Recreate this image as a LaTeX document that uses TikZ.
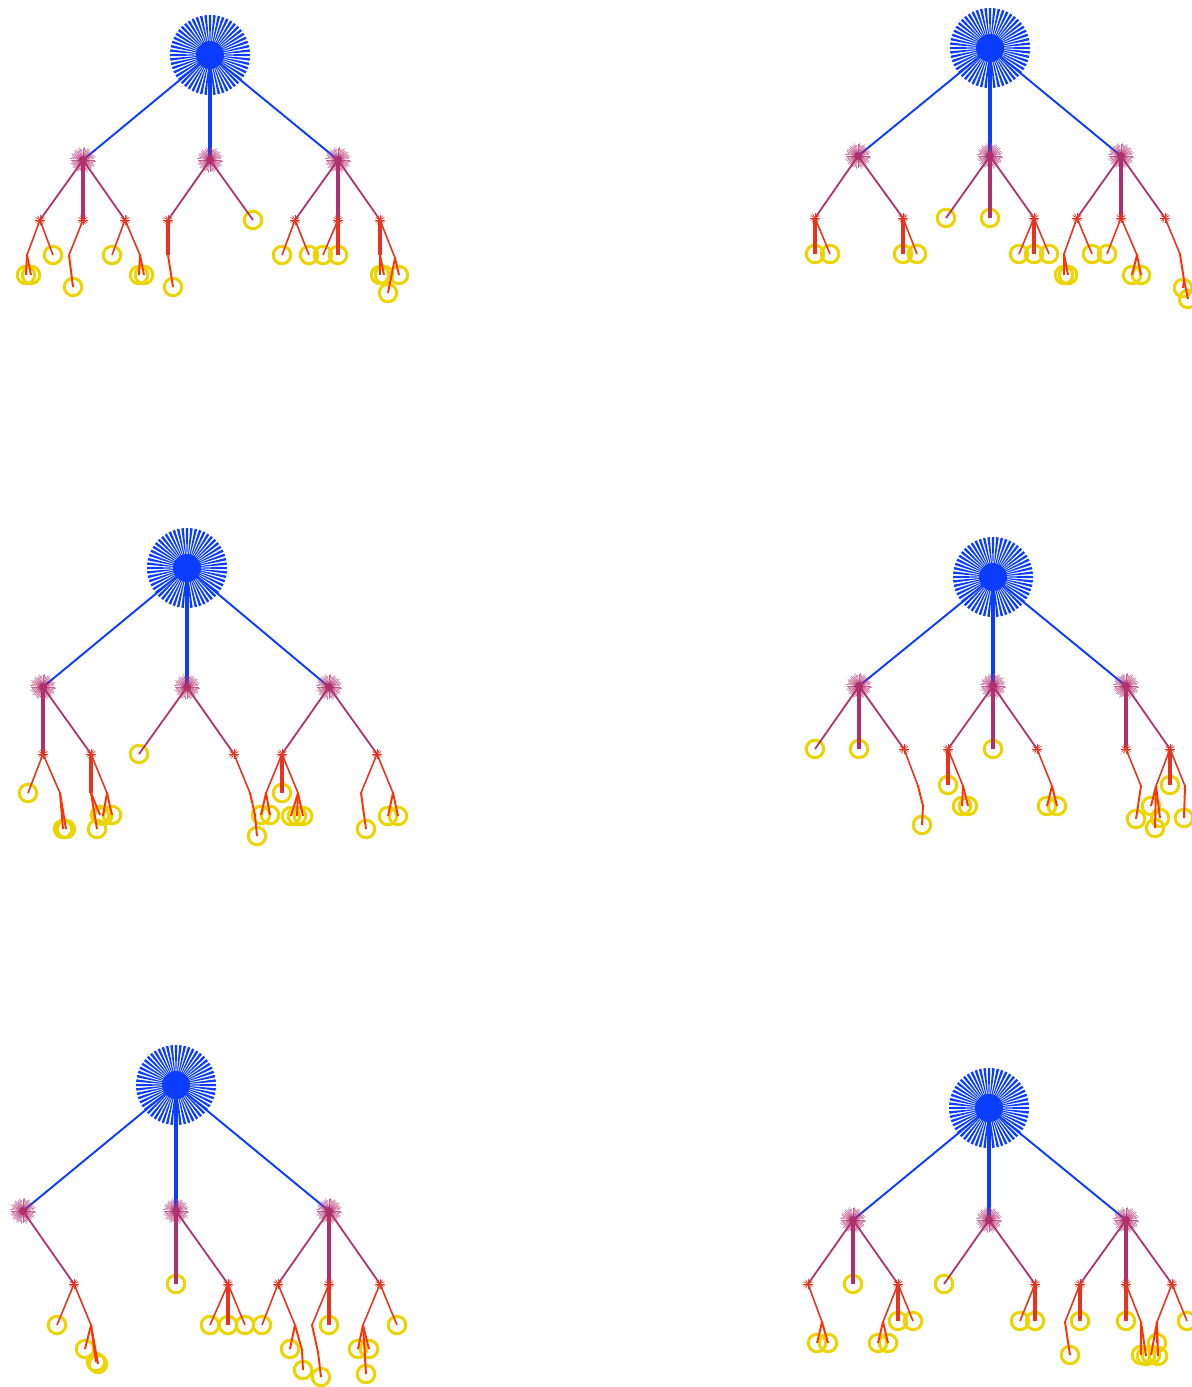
\documentclass[tikz,border=0pt]{standalone}
\usetikzlibrary{positioning}
\definecolor{RootClr}{rgb}{0.04,0.24,1}
\definecolor{MidClr}{rgb}{0.69,0.19,0.43}
\definecolor{LowClr}{rgb}{0.91,0.2,0.13}
\definecolor{TwigClr}{rgb}{1,0.2,0}
\definecolor{LeafClr}{rgb}{0.92,0.83,0}

\tikzset{
  leaf/.style={circle,draw=LeafClr,line width=1.7pt,minimum size=3.5mm,inner sep=0pt},
  rootlink/.style={RootClr,line width=1.1pt},
  midlink/.style={MidClr,line width=1pt},
  lowlink/.style={LowClr,line width=0.9pt},
  twiglink/.style={TwigClr,line width=1.1pt},
  upright/.style={line width=1.9pt}
}

\newcommand{\Links}[2]{\foreach \pa/\ch in {#2} {\draw[#1] (\pa) -- (\ch.center);}}
\newcommand{\RootBurst}[1]{%
  \begin{scope}[shift={(#1)}]
    \foreach \a in {0,6.4286,...,355} {\fill[RootClr] (0,0) -- ({\a-1.8}:40) -- ({\a+1.8}:40) -- cycle;}
    \fill[RootClr] (0,0) circle[radius=0.28cm];
  \end{scope}}
\newcommand{\MidBurst}[1]{%
  \begin{scope}[shift={(#1)}]
    \foreach \a [count=\i] in {0,7.5,...,355} {\draw[MidClr,line width=0.35pt,opacity=0.75] (0,0) -- (\a:{11+mod(\i,3)});}
    \fill[MidClr] (0,0) circle[radius=0.08cm];
  \end{scope}}
\newcommand{\SmallStar}[1]{%
  \foreach \a in {0,30,...,330} {\draw[LowClr,line width=0.4pt] (#1) -- ++(\a:5);}}
\newcommand{\Bend}[1]{\fill[TwigClr] (#1) circle[radius=0.025cm];}

\begin{document}
\begin{tikzpicture}[x=0.02cm,y=-0.02cm]
\useasboundingbox (0,0) rectangle (1192,1387);

% top left
\coordinate (A) at (210,55);
\foreach \n/\x in {A1/83,A2/210,A3/338} \coordinate (\n) at (\x,160);
\foreach \n/\x in {A11/40,A12/83,A13/125,A21/168,A31/295,A32/338,A33/380} \coordinate (\n) at (\x,220);
\foreach \n/\x/\y in {A11p/27/255,A12p/69/255,A13p/140/255,A21p/168/255,A33p/380/255,A33q/395/258} \coordinate (\n) at (\x,\y);
\foreach \n/\x/\y in {A11a/26/275,A11b/31/275,A11c/53/255,A12a/73/287,A13a/112/255,A13b/139/275,A13c/144/275,
  A21a/173/287,A2a/253/220,A31a/282/255,A31b/309/255,A32a/323/255,A32b/338/255,A33a/380/275,A33b/384/275,A33c/399/275,A33d/388/293}
  \node[leaf] (\n) at (\x,\y) {};
\Links{rootlink}{A/A1,A/A3}
\Links{rootlink,upright}{A/A2}
\Links{midlink}{A1/A11,A1/A13,A2/A21,A2/A2a,A3/A31,A3/A33}
\Links{midlink,upright}{A1/A12,A3/A32}
\Links{lowlink}{A11/A11p,A11/A11c,A12/A12p,A13/A13a,A13/A13p,A31/A31a,A31/A31b,A32/A32a,A33/A33q}
\Links{lowlink,upright}{A21/A21p,A32/A32b,A33/A33p}
\Links{twiglink}{A11p/A11a,A11p/A11b,A12p/A12a,A13p/A13b,A13p/A13c,A21p/A21a,A33p/A33a,A33p/A33b,A33q/A33c,A33q/A33d}

% top right
\coordinate (B) at (990,48);
\foreach \n/\x in {B1/858,B2/990,B3/1121} \coordinate (\n) at (\x,156);
\foreach \n/\x in {B11/815,B12/903,B21/1034,B31/1077,B32/1121,B33/1165} \coordinate (\n) at (\x,218);
\foreach \n/\x/\y in {B31p/1064/254,B32p/1137/255,B33p/1180/254,B33q/1184/280} \coordinate (\n) at (\x,\y);
\foreach \n/\x/\y in {B11a/815/254,B11b/830/254,B12a/903/254,B12b/917/254,B2a/946/218,B2b/990/218,B21a/1019/254,B21b/1034/254,
  B21c/1049/254,B31a/1064/275,B31b/1068/275,B31c/1092/254,B32a/1107/254,B32b/1132/275,B32c/1141/275,B33a/1183/288,B33b/1188/299}
  \node[leaf] (\n) at (\x,\y) {};
\Links{rootlink}{B/B1,B/B3}
\Links{rootlink,upright}{B/B2}
\Links{midlink}{B1/B11,B1/B12,B2/B2a,B2/B21,B3/B31,B3/B33}
\Links{midlink,upright}{B2/B2b,B3/B32}
\Links{lowlink}{B11/B11b,B12/B12b,B21/B21a,B21/B21c,B31/B31p,B31/B31c,B32/B32a,B32/B32p,B33/B33p}
\Links{lowlink,upright}{B11/B11a,B12/B12a,B21/B21b}
\Links{twiglink}{B31p/B31a,B31p/B31b,B32p/B32b,B32p/B32c,B33p/B33q,B33q/B33a,B33q/B33b}

% middle left
\coordinate (C) at (187,568);
\foreach \n/\x in {C1/43,C2/187,C3/329} \coordinate (\n) at (\x,687);
\foreach \n/\x in {C11/43,C12/91,C21/234,C31/282,C32/377} \coordinate (\n) at (\x,754);
\foreach \n/\x/\y in {C11p/60/793,C12p/91/793,C12q/107/793,C21p/250/793,C21q/255/815,C31p/266/793,C31q/298/793,C32p/361/793,C32q/393/793}
  \coordinate (\n) at (\x,\y);
\foreach \n/\x/\y in {C11a/28/793,C11b/63/829,C11c/66/829,C12a/97/829,C12b/100/815,C12c/103/816,C12d/112/815,C2a/139/754,C21a/257/836,
  C31a/282/793,C31b/261/815,C31c/270/815,C31d/291/816,C31e/297/816,C31f/303/816,C32a/366/829,C32b/388/816,C32c/398/816}
  \node[leaf] (\n) at (\x,\y) {};
\Links{rootlink}{C/C1,C/C3}
\Links{rootlink,upright}{C/C2}
\Links{midlink}{C1/C12,C2/C2a,C2/C21,C3/C31,C3/C32}
\Links{midlink,upright}{C1/C11}
\Links{lowlink}{C11/C11a,C11/C11p,C12/C12q,C21/C21p,C31/C31p,C31/C31q,C32/C32p,C32/C32q}
\Links{lowlink,upright}{C12/C12p,C31/C31a}
\Links{twiglink}{C11p/C11b,C11p/C11c,C12p/C12a,C12p/C12b,C12q/C12c,C12q/C12d,C21p/C21q,C21q/C21a,C31p/C31b,C31p/C31c,
  C31q/C31d,C31q/C31e,C31q/C31f,C32p/C32a,C32q/C32b,C32q/C32c}

% middle right
\coordinate (D) at (993,577);
\foreach \n/\x in {D1/859,D2/993,D3/1126} \coordinate (\n) at (\x,686);
\foreach \n/\x in {D11/904,D21/948,D22/1037,D31/1126,D32/1170} \coordinate (\n) at (\x,749);
\foreach \n/\x/\y in {D11p/918/786,D11q/923/806,D21p/963/786,D22p/1052/786,D31p/1141/786,D32p/1156/786,D32q/1185/786}
  \coordinate (\n) at (\x,\y);
\foreach \n/\x/\y in {D1a/815/749,D1b/859/749,D11a/922/825,D21a/948/785,D21b/962/806,D21c/968/806,D2a/993/749,D22a/1047/806,
  D22b/1057/806,D31a/1136/819,D32a/1170/785,D32b/1151/806,D32c/1160/818,D32d/1155/828,D32e/1184/818}
  \node[leaf] (\n) at (\x,\y) {};
\Links{rootlink}{D/D1,D/D3}
\Links{rootlink,upright}{D/D2}
\Links{midlink}{D1/D1a,D1/D11,D2/D21,D2/D22,D3/D32}
\Links{midlink,upright}{D1/D1b,D2/D2a,D3/D31}
\Links{lowlink}{D11/D11p,D21/D21p,D22/D22p,D31/D31p,D32/D32p,D32/D32q}
\Links{lowlink,upright}{D21/D21a,D32/D32a}
\Links{twiglink}{D11p/D11q,D11q/D11a,D21p/D21b,D21p/D21c,D22p/D22a,D22p/D22b,D31p/D31a,D32p/D32b,D32p/D32c,D32p/D32d,D32q/D32e}

% bottom left
\coordinate (E) at (176,1085);
\foreach \n/\x in {E1/23,E2/176,E3/329} \coordinate (\n) at (\x,1211);
\foreach \n/\x in {E11/74,E21/228,E31/278,E32/329,E33/380} \coordinate (\n) at (\x,1284);
\foreach \n/\x/\y in {E11p/91/1325,E31p/295/1325,E31q/302/1350,E32p/312/1325,E32q/318/1352,E33p/363/1325}
  \coordinate (\n) at (\x,\y);
\foreach \n/\x/\y in {E11a/57/1325,E11b/85/1349,E11c/96/1362,E11d/98/1364,E2a/176/1284,E21a/210/1325,E21b/228/1325,E21c/245/1325,
  E31a/262/1325,E31b/290/1349,E31c/303/1370,E32a/329/1325,E32b/321/1377,E33a/397/1325,E33b/358/1349,E33c/369/1349,E33d/366/1374}
  \node[leaf] (\n) at (\x,\y) {};
\Links{rootlink}{E/E1,E/E3}
\Links{rootlink,upright}{E/E2}
\Links{midlink}{E1/E11,E2/E21,E3/E31,E3/E33}
\Links{midlink,upright}{E2/E2a,E3/E32}
\Links{lowlink}{E11/E11a,E11/E11p,E21/E21a,E21/E21c,E31/E31a,E31/E31p,E32/E32p,E33/E33a,E33/E33p}
\Links{lowlink,upright}{E21/E21b,E32/E32a}
\Links{twiglink}{E11p/E11b,E11p/E11c,E11p/E11d,E31p/E31b,E31p/E31q,E31q/E31c,E32p/E32q,E32q/E32b,E33p/E33b,E33p/E33c,E33p/E33d}

% bottom right
\coordinate (F) at (989,1108);
\foreach \n/\x in {F1/853,F2/989,F3/1126} \coordinate (\n) at (\x,1220);
\foreach \n/\x in {F11/808,F12/898,F21/1035,F31/1080,F32/1126,F33/1172} \coordinate (\n) at (\x,1284);
\foreach \n/\x/\y in {F11p/822/1322,F12p/883/1322,F31p/1065/1322,F32p/1141/1322,F33p/1157/1322} \coordinate (\n) at (\x,\y);
\foreach \n/\x/\y in {F11a/817/1343,F11b/828/1343,F1a/853/1284,F12a/898/1321,F12b/913/1321,F12c/878/1343,F12d/888/1343,
  F2a/944/1284,F21a/1020/1321,F21b/1035/1321,F31a/1080/1321,F31b/1070/1355,F32a/1126/1321,F32b/1141/1355,F32c/1146/1356,
  F33a/1187/1321,F33b/1157/1343,F33c/1151/1355,F33d/1158/1356}
  \node[leaf] (\n) at (\x,\y) {};
\Links{rootlink}{F/F1,F/F3}
\Links{rootlink,upright}{F/F2}
\Links{midlink}{F1/F11,F1/F12,F2/F2a,F2/F21,F3/F31,F3/F33}
\Links{midlink,upright}{F1/F1a,F3/F32}
\Links{lowlink}{F11/F11p,F12/F12b,F12/F12p,F21/F21a,F31/F31p,F32/F32p,F33/F33a,F33/F33p}
\Links{lowlink,upright}{F12/F12a,F21/F21b,F31/F31a,F32/F32a}
\Links{twiglink}{F11p/F11a,F11p/F11b,F12p/F12c,F12p/F12d,F31p/F31b,F32p/F32b,F32p/F32c,F33p/F33b,F33p/F33c,F33p/F33d}

% bursts on top
\foreach \r in {A,B,C,D,E,F} {\RootBurst{\r}}
\foreach \r in {A,B,C,D,E,F} {\foreach \k in {1,2,3} {\MidBurst{\r\k}}}
\foreach \s in {A11,A12,A13,A21,A31,A32,A33,B11,B12,B21,B31,B32,B33,C11,C12,C21,C31,C32,
  D11,D21,D22,D31,D32,E11,E21,E31,E32,E33,F11,F12,F21,F31,F32,F33} {\SmallStar{\s}}
\foreach \s in {A11p,A12p,A13p,A21p,A33p,A33q,B31p,B32p,B33p,B33q,C11p,C12p,C12q,C21p,C21q,C31p,C31q,C32p,C32q,
  D11p,D11q,D21p,D22p,D31p,D32p,D32q,E11p,E31p,E31q,E32p,E32q,E33p,F11p,F12p,F31p,F32p,F33p} {\Bend{\s}}
\end{tikzpicture}
\end{document}
